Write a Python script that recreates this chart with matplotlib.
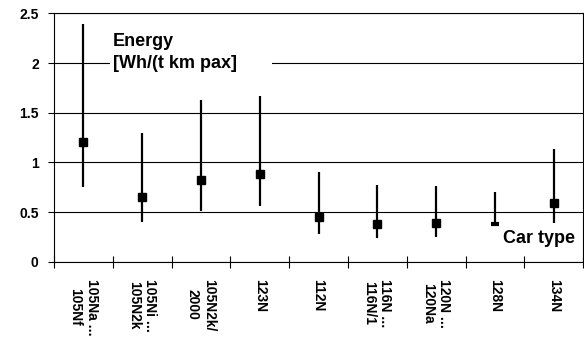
import matplotlib
matplotlib.use('Agg')
import matplotlib.pyplot as plt
from matplotlib.patches import Rectangle

plt.rcParams['font.family'] = ['Liberation Sans', 'DejaVu Sans']
plt.rcParams['font.weight'] = 'bold'

# Car types (x tick labels)
car_types = ['105Na ...\n105Nf', '105Ni ...\n105N2k', '105N2k/\n2000', '123N',
             '112N', '116N ...\n116N/1', '120N ...\n120Na', '128N', '134N']

# Energy values [Wh/(t km pax)]: high, low, typical
energy_high = [2.39, 1.30, 1.63, 1.67, 0.90, 0.77, 0.76, 0.70, 1.14]
energy_low = [0.755, 0.40, 0.51, 0.56, 0.277, 0.243, 0.253, 0.38, 0.387]
energy_mid = [1.21, 0.655, 0.823, 0.886, 0.454, 0.38, 0.393, 0.385, 0.595]

fig = plt.figure(figsize=(5.84, 3.41), dpi=100)
ax = fig.add_axes([0.0925, 0.232, 0.906, 0.729])

x = list(range(len(car_types)))

# grid lines
ax.set_ylim(0, 2.5)
ax.set_yticks([0, 0.5, 1, 1.5, 2, 2.5])
ax.set_yticklabels(['0', '0.5', '1', '1.5', '2', '2.5'])
ax.yaxis.grid(True, color='black', linewidth=0.8)
ax.set_axisbelow(True)

# high-low lines and markers
ax.vlines(x, energy_low, energy_high, color='black', linewidth=1.6, zorder=3)
for i in x:
    if car_types[i] == '128N':
        ax.plot(i, energy_mid[i], marker='_', color='black', markersize=6,
                markeredgewidth=3, zorder=4)
    else:
        ax.plot(i, energy_mid[i], marker='s', color='black', markersize=6, zorder=4)

ax.set_xlim(-0.5, len(car_types) - 0.5)
ax.set_xticks([i - 0.5 for i in range(len(car_types) + 1)])
ax.set_xticklabels([])
ax.set_xticks(x, minor=True)
ax.set_xticklabels(car_types, minor=True, rotation=270, fontsize=10,
                   ha='center', va='top', multialignment='center')
ax.tick_params(axis='x', which='major', direction='inout', length=8, width=0.8)
ax.tick_params(axis='x', which='minor', length=0, pad=12)
ax.tick_params(axis='y', direction='out', length=4, width=0.8, pad=7, labelsize=10)
for lab in ax.get_yticklabels() + ax.get_xticklabels(minor=True):
    lab.set_fontweight('bold')
    lab.set_family(['Liberation Sans'])

for s in ax.spines.values():
    s.set_linewidth(0.8)
    s.set_color('black')

# axis titles inside the plot
ax.add_patch(Rectangle((0.106, 0.74), 0.306, 0.2, transform=ax.transAxes,
                       facecolor='white', edgecolor='none', zorder=2))
ax.text(0.1115, 0.92, 'Energy\n[Wh/(t km pax]', transform=ax.transAxes,
        fontsize=13, fontweight='bold', ha='left', va='top', zorder=5,
        linespacing=1.35)
ax.text(0.985, 0.077, 'Car type', transform=ax.transAxes, fontsize=13,
        fontweight='bold', ha='right', va='baseline', zorder=5)

fig.savefig('out.png', dpi=100)
